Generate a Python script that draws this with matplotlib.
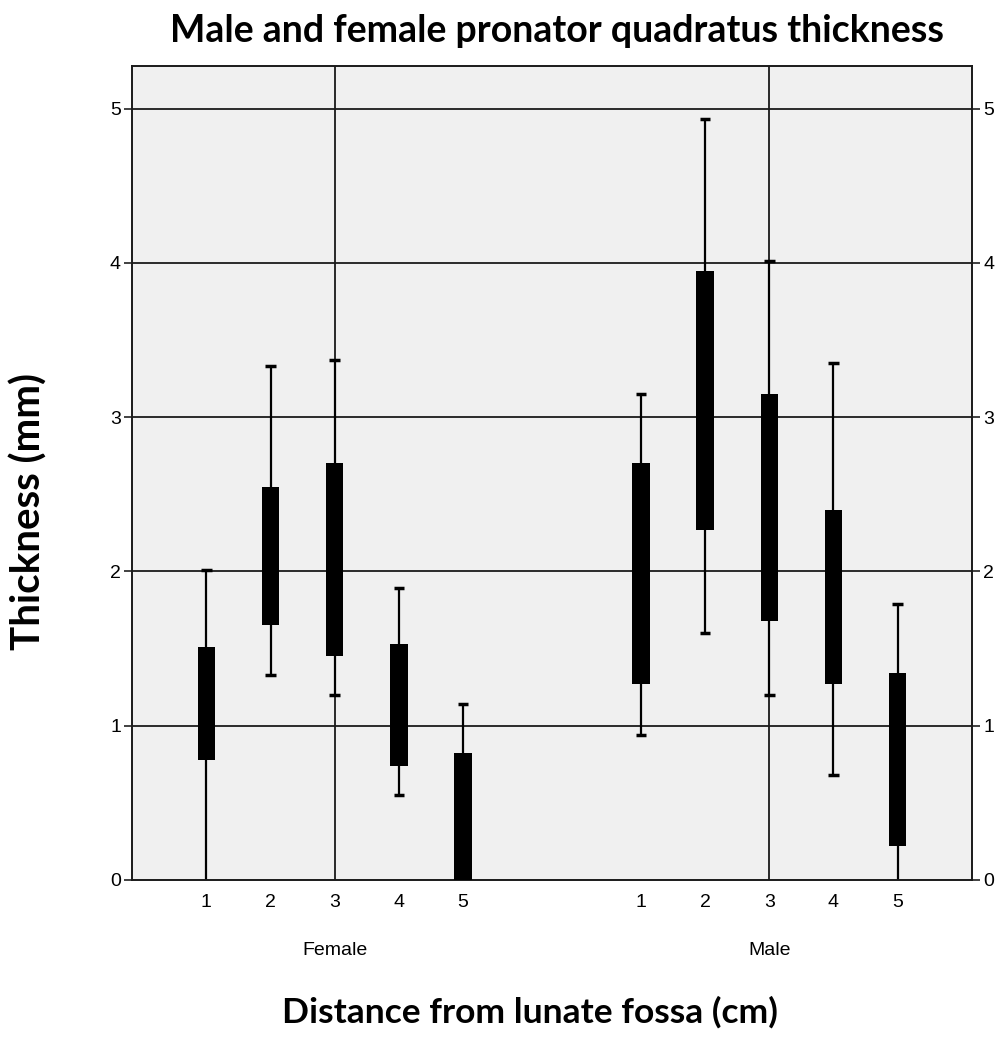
import matplotlib
matplotlib.use("Agg")
import matplotlib.pyplot as plt
import numpy as np

# ---- data ----
groups = ["Female", "Male"]
distances = ["1", "2", "3", "4", "5"]
female_box_low = [0.78, 1.65, 1.45, 0.74, 0.0]
female_box_high = [1.51, 2.55, 2.70, 1.53, 0.82]
female_whisk_low = [0.0, 1.33, 1.20, 0.55, 0.0]
female_whisk_high = [2.01, 3.33, 3.37, 1.89, 1.14]
male_box_low = [1.27, 2.27, 1.68, 1.27, 0.22]
male_box_high = [2.70, 3.95, 3.15, 2.40, 1.34]
male_whisk_low = [0.94, 1.60, 1.20, 0.68, 0.0]
male_whisk_high = [3.15, 4.93, 4.01, 3.35, 1.79]
yticks = [0, 1, 2, 3, 4, 5]

# ---- layout ----
fig = plt.figure(figsize=(10, 10.45), dpi=100)
ax = fig.add_axes([0.132, 0.158, 0.840, 0.779])
ax.set_facecolor("#f0f0f0")

group_gap = 6.78
base = np.arange(1, 6)
xs = [base, base + group_gap]
data = [
    (female_box_low, female_box_high, female_whisk_low, female_whisk_high),
    (male_box_low, male_box_high, male_whisk_low, male_whisk_high),
]

# gridlines and reference lines
for y in yticks[1:]:
    ax.axhline(y, color="#2a2a2a", lw=1.4, zorder=1)
for x in xs:
    ax.axvline(x[2], color="#1a1a1a", lw=1.3, zorder=1)

bw = 0.276
cw = 0.16
for x, (bl, bh, wl, wh) in zip(xs, data):
    bl = np.array(bl); bh = np.array(bh); wl = np.array(wl); wh = np.array(wh)
    ax.vlines(x, wl, wh, color="black", lw=1.6, zorder=2)
    for xi, lo, hi in zip(x, wl, wh):
        ax.hlines(hi, xi - cw / 2, xi + cw / 2, color="black", lw=2.5, zorder=2)
        if lo > 0:
            ax.hlines(lo, xi - cw / 2, xi + cw / 2, color="black", lw=2.5, zorder=2)
    ax.bar(x, bh - bl, bottom=bl, width=bw, color="black", zorder=3)

ax.set_xlim(-0.16, 12.94)
ax.set_ylim(0, 5.277)

tick_font = ["Liberation Sans", "DejaVu Sans"]
allx = np.concatenate(xs)
ax.set_xticks(allx)
ax.set_xticklabels(distances * 2, fontsize=14, family=tick_font)
ax.tick_params(axis="x", length=0, pad=10)
ax.set_yticks(yticks)
ax.set_yticklabels([str(v) for v in yticks], fontsize=14, family=tick_font)
ax.tick_params(axis="y", direction="out", length=6, width=1.3, color="#333333",
               left=True, right=True, labelleft=True, labelright=True, pad=2)

for s in ax.spines.values():
    s.set_color("#1a1a1a")
    s.set_linewidth(1.4)

for x, g in zip(xs, groups):
    ax.text(x[2], -0.46, g, ha="center", va="center", fontsize=14,
            family=tick_font, transform=ax.transData, clip_on=False)

title_font = ["Lato", "DejaVu Sans"]
fig.text(0.557, 1 - 31 / 1045, "Male and female pronator quadratus thickness",
         ha="center", va="center", fontsize=27, fontweight="bold", family=title_font)
fig.text(0.53, 1 - 1012 / 1045, "Distance from lunate fossa (cm)",
         ha="center", va="center", fontsize=25.5, fontweight="bold", family=title_font)
fig.text(0.029, 1 - 511 / 1045, "Thickness (mm)", rotation=90,
         ha="center", va="center", fontsize=29, fontweight="bold", family=title_font)

fig.savefig("out.png", dpi=100, facecolor="white")
